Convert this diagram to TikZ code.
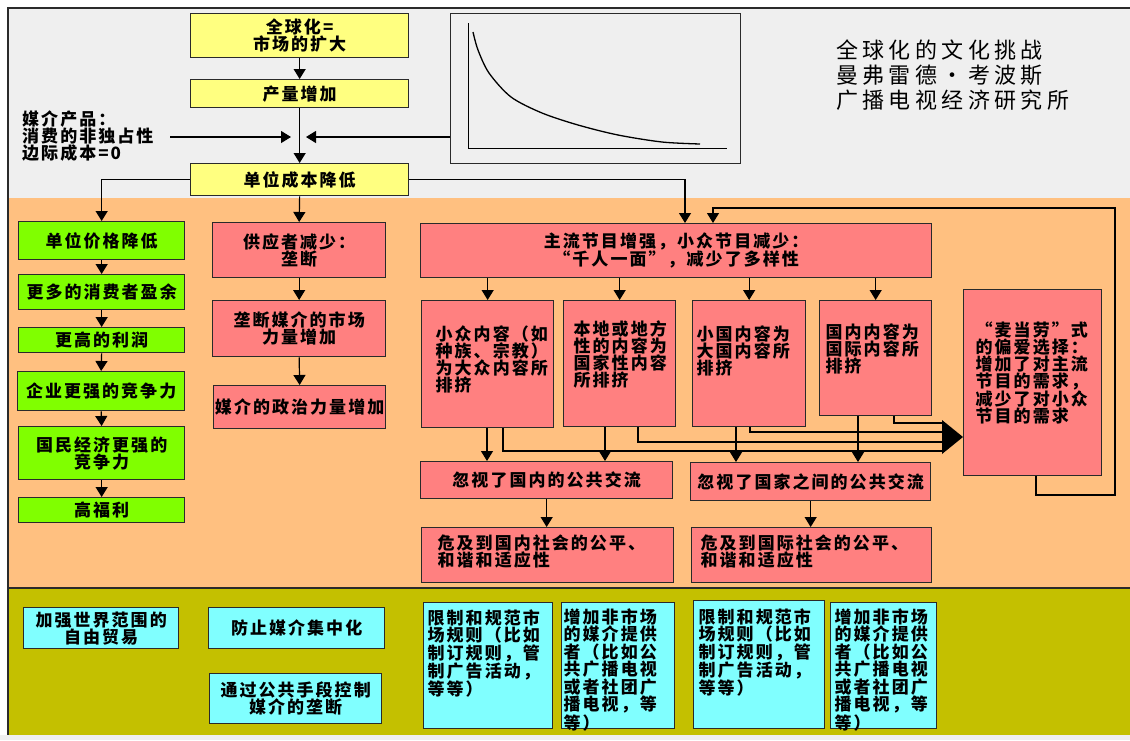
\documentclass[tikz,border=0pt]{standalone}
\usepackage{fontspec}
\usetikzlibrary{arrows.meta}
\newfontfamily\cjk[LetterSpace=12]{Noto Sans CJK SC}
\newfontfamily\cjt[LetterSpace=20]{Noto Sans CJK SC}
\definecolor{bggray}{HTML}{EFEFEF}
\definecolor{bgorange}{HTML}{FFC080}
\definecolor{bgolive}{HTML}{C4C000}
\definecolor{yel}{HTML}{FFFF80}
\definecolor{grn}{HTML}{80FF00}
\definecolor{rosy}{HTML}{FF8080}
\definecolor{cya}{HTML}{80FFFF}
\definecolor{edge}{HTML}{2A2A2A}
\newcommand\bx[7]{\node[#1, minimum width={(#5-#3)*1pt}, minimum height={(#6-#4)*1pt}] (#2) at (#3,#4) {#7};}
\newcommand\tl[5]{\parbox[c][#2pt][t]{#1pt}{\vspace*{#4pt}\leftskip=#3pt\relax #5}}
\begin{document}
\begin{tikzpicture}[x=1pt,y=-1pt,
  font={\cjk\bfseries\fontsize{17pt}{17pt}\selectfont},
  box/.style={draw=edge, line width=1.3pt, anchor=north west, inner sep=0pt, align=center},
  tb/.style={draw=edge, line width=1.3pt, anchor=north west, inner sep=0pt},
  yb/.style={box, fill=yel}, gb/.style={box, fill=grn}, rb/.style={box, fill=rosy},
  cb/.style={box, fill=cya},
  rt/.style={tb, fill=rosy}, ct/.style={tb, fill=cya},
  ln/.style={draw=black, line width=1.2pt},
  arr/.style={ln, -{Triangle[width=12pt,length=10pt]}}]
\useasboundingbox (0,0) rectangle (1130,740);
% backgrounds
\fill[white] (0,0) rectangle (1130,740);
\fill[bggray] (8,8) rectangle (1130,198);
\fill[bgorange] (8,198) rectangle (1130,588);
\fill[bgolive] (8,588) rectangle (1130,735);
\fill[bggray] (0,735) rectangle (1130,740);
\draw[edge, line width=1.2pt] (1130,8) -- (8,8) -- (8,735);
\draw[edge, line width=1.5pt] (8,588) -- (1130,588);
% title
\node[anchor=north west, align=left, inner sep=0pt, font={\cjt\fontsize{22pt}{25pt}\selectfont}] (title) at (836,40)
  {全球化的文化挑战\\曼弗雷德·考波斯\\广播电视经济研究所};
% graph
\node[draw=edge, line width=1.3pt, anchor=north west, minimum width=290pt, minimum height=150pt, inner sep=0pt] (graph) at (450,13) {};
\draw[line width=1pt] (468,23) -- (468,148) -- (727,148);
\draw[line width=1.3pt] plot[smooth] coordinates {(473,32) (478,50) (489,73) (511,97) (542,113) (578,125) (618,135) (662,142) (700,144)};
% yellow
\bx{yb}{glob}{190}{13}{408}{57}{全球化=\\市场的扩大}
\bx{yb}{prod}{190}{79}{408}{107}{产量增加}
\bx{yb}{unit}{190}{163}{408}{195}{单位成本降低}
\node[anchor=north west, align=left, inner sep=0pt] (media) at (22,110) {媒介产品：\\消费的非独占性\\边际成本=0};
% green
\bx{gb}{g1}{18}{221}{184}{259}{单位价格降低}
\bx{gb}{g2}{18}{274}{184}{309}{更多的消费者盈余}
\bx{gb}{g3}{18}{327}{184}{352}{更高的利润}
\bx{gb}{g4}{17}{371}{184}{410}{企业更强的竞争力}
\bx{gb}{g5}{18}{426}{184}{479}{国民经济更强的\\竞争力}
\bx{gb}{g6}{18}{497}{184}{522}{高福利}
% red left
\bx{rb}{r1}{212}{222}{385}{277}{供应者减少：\\垄断}
\bx{rb}{r2}{212}{300}{385}{356}{垄断媒介的市场\\力量增加}
\bx{rb}{r3}{213}{385}{385}{428}{媒介的政治力量增加}
% red middle
\bx{rb}{main}{420}{223}{931}{277}{主流节目增强，小众节目减少：\\“千人一面”，减少了多样性}
\node[rt] (A) at (421,300) {\tl{132}{127}{14}{25}{小众内容（如\\种族、宗教）\\为大众内容所\\排挤}};
\node[rt] (B) at (563,300) {\tl{112}{126}{10}{20}{本地或地方\\性的内容为\\国家性内容\\所排挤}};
\node[rt] (C) at (692,300) {\tl{113}{126}{4}{25}{小国内容为\\大国内容所\\排挤}};
\node[rt] (D) at (819,300) {\tl{112}{115}{6}{23}{国内内容为\\国际内容所\\排挤}};
\node[rt] (E) at (963,289) {\tl{138}{186}{12}{32}{“麦当劳”式\\的偏爱选择：\\增加了对主流\\节目的需求，\\减少了对小众\\节目的需求}};
\bx{rb}{ig1}{420}{461}{672}{498}{忽视了国内的公共交流}
\bx{rb}{ig2}{690}{462}{930}{500}{忽视了国家之间的公共交流}
\node[rt] (d1) at (421,527) {\tl{252}{55}{16}{7}{危及到国内社会的公平、\\和谐和适应性}};
\node[rt] (d2) at (691,527) {\tl{240}{55}{9}{7}{危及到国际社会的公平、\\和谐和适应性}};
% cyan
\bx{cb}{c1}{23}{607}{178}{648}{加强世界范围的\\自由贸易}
\bx{cb}{c2}{208}{607}{384}{648}{防止媒介集中化}
\bx{cb}{c3}{209}{673}{381}{723}{通过公共手段控制\\媒介的垄断}
\begin{scope}[font={\cjk\bfseries\fontsize{17pt}{16pt}\selectfont}]
\node[ct] (c4) at (423,602) {\tl{129}{126}{4}{7}{限制和规范市\\场规则（比如\\制订规则，管\\制广告活动，\\等等）}};
\node[ct] (c5) at (561,602) {\tl{113}{126}{2}{6}{增加非市场\\的媒介提供\\者（比如公\\共广播电视\\或者社团广\\播电视，等\\等）}};
\node[ct] (c6) at (693,600) {\tl{131}{128}{5}{8}{限制和规范市\\场规则（比如\\制订规则，管\\制广告活动，\\等等）}};
\node[ct] (c7) at (830,602) {\tl{106}{126}{4}{6}{增加非市场\\的媒介提供\\者（比如公\\共广播电视\\或者社团广\\播电视，等\\等）}};
\end{scope}
% connectors top
\draw[arr] (glob.south) -- (prod.north);
\draw[arr] (prod.south) -- (unit.north);
\coordinate (la) at (170,137);
\coordinate (lt) at (291,137);
\coordinate (rt) at (306,137);
\draw[arr] (la) -- (lt);
\draw[arr] (graph.west |- rt) -- (rt);
\draw[arr] (unit.west) -| (g1.north);
\draw[arr] (unit.south) -- (r1.north);
\draw[arr] (unit.east) -| ([xshift=265pt]main.north west);
% green chain
\draw[arr] (g1.south) -- (g2.north);
\draw[arr] (g2.south) -- (g3.north);
\draw[arr] (g3.south) -- (g4.north);
\draw[arr] (g4.south) -- (g5.north);
\draw[arr] (g5.south) -- (g6.north);
% red chain
\draw[arr] (r1.south) -- (r2.north);
\draw[arr] (r2.south) -- (r3.north);
% main to four
\draw[arr] (A.north |- main.south) -- (A.north);
\draw[arr] (B.north |- main.south) -- (B.north);
\draw[arr] (C.north |- main.south) -- (C.north);
\draw[arr] (D.north |- main.south) -- (D.north);
% four to ignore boxes
\draw[arr] ([xshift=66pt]A.south west) -- ([xshift=66pt]A.south west |- ig1.north);
\draw[arr] ([xshift=42pt]B.south west) -- ([xshift=42pt]B.south west |- ig1.north);
\draw[arr] ([xshift=44pt]C.south west) -- ([xshift=44pt]C.south west |- ig2.north);
\draw[arr] ([xshift=39pt]D.south west) -- ([xshift=39pt]D.south west |- ig2.north);
% four to E
\coordinate (m1) at (942,451);
\coordinate (m2) at (942,442);
\coordinate (m3) at (942,432);
\coordinate (m4) at (942,423);
\draw[ln] ([xshift=82pt]A.south west) |- (m1);
\draw[ln] ([xshift=75pt]B.south west) |- (m2);
\draw[ln] ([xshift=58pt]C.south west) |- (m3);
\draw[ln] ([xshift=75pt]D.south west) |- (m4);
\coordinate (tip) at (963,437);
\fill[black] (tip) -- (942,420) -- (942,454) -- cycle;
% feedback
\coordinate (fb1) at (1115,495);
\coordinate (fb2) at (1115,208);
\draw[arr] ([xshift=73pt]E.south west) |- (fb1) -- (fb2) -| ([xshift=293pt]main.north west);
% ignore to danger
\draw[arr] (ig1.south) -- (d1.north -| ig1.south);
\draw[arr] (ig2.south) -- (d2.north -| ig2.south);
\end{tikzpicture}
\end{document}
